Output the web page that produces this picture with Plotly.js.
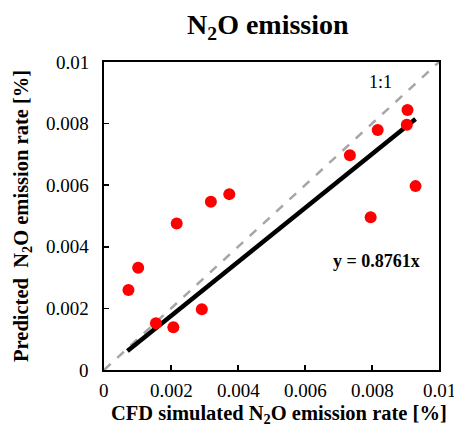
<!DOCTYPE html>
<html>
<head>
<meta charset="utf-8">
<script src="https://cdn.plot.ly/plotly-3.0.1.min.js"></script>
<style>html,body{margin:0;padding:0;background:#fff;}#chart{width:454px;height:438px;}</style>
</head>
<body>
<div id="chart"></div>
<script>
// CFD simulated vs predicted N2O emission rate [%]
const cfdX = [0.00073, 0.00102, 0.00155, 0.00207, 0.00217, 0.00292, 0.00319, 0.00374, 0.00734, 0.00796, 0.00817, 0.00904, 0.00906, 0.00930];
const predY = [0.00260, 0.00332, 0.00152, 0.00139, 0.00476, 0.00197, 0.00546, 0.00571, 0.00697, 0.00496, 0.00779, 0.00796, 0.00844, 0.00597];
const slope = 0.8761;
const fitX = [0.0007, 0.0093];
const fitY = fitX.map(v => slope * v);
const oneToOneX = [0, 0.01];
const oneToOneY = [0, 0.01];
const tickVals = [0, 0.002, 0.004, 0.006, 0.008, 0.01];
const tickText = ["0", "0.002", "0.004", "0.006", "0.008", "0.01"];

const serif = "Liberation Serif";

const traces = [
  {x: oneToOneX, y: oneToOneY, mode: "lines", line: {color: "#a6a6a6", width: 2.5, dash: "dash"}, hoverinfo: "skip", showlegend: false},
  {x: fitX, y: fitY, mode: "lines", line: {color: "#000000", width: 4.5}, showlegend: false},
  {x: cfdX, y: predY, mode: "markers", marker: {color: "#ff0000", size: 12}, showlegend: false}
];

function makeAxis() {
  return {
    range: [0, 0.01],
    tickmode: "array",
    tickvals: tickVals,
    showticklabels: false,
    ticks: "inside",
    ticklen: 5,
    tickwidth: 1.5,
    tickcolor: "#000",
    showline: true,
    mirror: true,
    linecolor: "#000",
    linewidth: 2,
    showgrid: false,
    zeroline: false
  };
}

const tickFont = {family: serif, size: 19, color: "#000"};
const annotations = [];
tickVals.forEach((v, i) => {
  annotations.push({x: v, y: 0, xref: "x", yref: "paper", text: tickText[i], showarrow: false,
    xanchor: "center", yanchor: "top", yshift: -8, font: tickFont});
  annotations.push({x: 0, y: v, xref: "paper", yref: "y", text: tickText[i], showarrow: false,
    xanchor: "right", yanchor: "middle", xshift: -13, font: tickFont});
});
annotations.push(
  {x: 0.522, y: -0.143, xref: "paper", yref: "paper", text: "<b>CFD simulated N<sub>2</sub>O emission rate [%]</b>",
    showarrow: false, xanchor: "center", yanchor: "middle", font: {family: serif, size: 20.5, color: "#000"}},
  {x: -0.245, y: 0.5, xref: "paper", yref: "paper", text: "<b>Predicted  N<sub>2</sub>O emission rate [%]</b>",
    showarrow: false, textangle: -90, xanchor: "center", yanchor: "middle", font: {family: serif, size: 20.5, color: "#000"}},
  {x: 0.00824, y: 0.00935, xref: "x", yref: "y", text: "1:1", showarrow: false, font: {family: serif, size: 18, color: "#000"}},
  {x: 0.00812, y: 0.00354, xref: "x", yref: "y", text: "<b>y = 0.8761x</b>", showarrow: false, font: {family: serif, size: 18, color: "#000"}}
);

const layout = {
  width: 454,
  height: 438,
  margin: {l: 104, r: 15, t: 62, b: 68},
  paper_bgcolor: "#fff",
  plot_bgcolor: "#fff",
  font: {family: serif, size: 19, color: "#000"},
  title: {text: "<b>N<sub>2</sub>O emission</b>", font: {family: serif, size: 28, color: "#000"}, x: 0.59, xanchor: "center", y: 0.945, yanchor: "middle"},
  xaxis: makeAxis(),
  yaxis: makeAxis(),
  annotations: annotations
};

Plotly.newPlot("chart", traces, layout, {displayModeBar: false, staticPlot: true});
</script>
</body>
</html>
